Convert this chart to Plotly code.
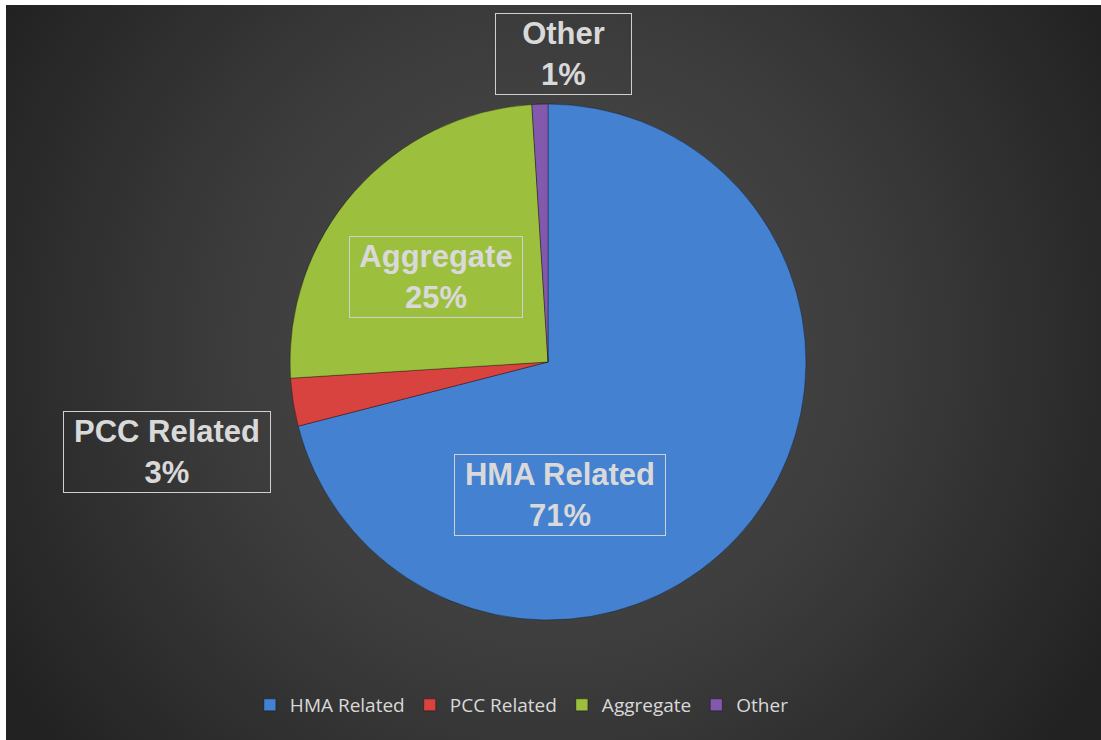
import base64
import plotly.graph_objects as go

# ---- data ----
categories = ["HMA Related", "PCC Related", "Aggregate", "Other"]
values = [71, 3, 25, 1]
colors = ["#4481d1", "#d8423f", "#9cbf3e", "#8259ad"]

W, H = 1101, 740

# background panel with radial gradient (SVG data URI)
svg = f'''<svg xmlns="http://www.w3.org/2000/svg" width="1095" height="735" viewBox="0 0 1095 735" preserveAspectRatio="none">
<defs><radialGradient id="g" gradientUnits="userSpaceOnUse" cx="545" cy="340" r="640">
<stop offset="0" stop-color="#505050"/><stop offset="0.55" stop-color="#3a3a3a"/><stop offset="1" stop-color="#222222"/>
</radialGradient></defs>
<rect x="0" y="0" width="1095" height="735" fill="url(#g)"/></svg>'''
src = "data:image/svg+xml;base64," + base64.b64encode(svg.encode()).decode()

cx, cy, r = 548, 362, 258

fig = go.Figure(go.Pie(
    labels=categories,
    values=values,
    sort=False,
    direction="clockwise",
    rotation=0,
    marker=dict(colors=colors, line=dict(color="rgba(0,0,0,0.35)", width=1)),
    textinfo="none",
    hoverinfo="label+percent",
    domain=dict(x=[(cx - r) / W, (cx + r) / W], y=[1 - (cy + r) / H, 1 - (cy - r) / H]),
))

# label boxes (centre px, box width px)
label_boxes = {
    "HMA Related": (560, 495, 212),
    "PCC Related": (167, 452, 208),
    "Aggregate": (436, 277, 174),
    "Other": (563, 54, 137),
}
total = sum(values)
for cat, v in zip(categories, values):
    x, y, w = label_boxes[cat]
    fig.add_annotation(
        x=x / W, y=1 - y / H, xref="paper", yref="paper",
        text=f"<b>{cat}<br>{round(100 * v / total)}%</b>",
        showarrow=False, align="center",
        width=w - 2, height=80,
        font=dict(family="Liberation Sans, Arial", size=31, color="#d9d9d9"),
        bordercolor="#d0d0d0", borderwidth=1, borderpad=0,
        xanchor="center", yanchor="middle",
    )

fig.update_layout(
    width=W, height=H,
    margin=dict(l=0, r=0, t=0, b=0),
    paper_bgcolor="white",
    plot_bgcolor="rgba(0,0,0,0)",
    images=[dict(source=src, xref="paper", yref="paper", x=6 / W, y=1 - 5 / H,
                 sizex=(W - 6) / W, sizey=(H - 5) / H, sizing="stretch",
                 xanchor="left", yanchor="top", layer="below")],
    showlegend=True,
    legend=dict(orientation="h", x=0.474, y=1 - 705 / H, xanchor="center", yanchor="middle",
                font=dict(family="Open Sans", size=19, color="#d9d9d9"),
                bgcolor="rgba(0,0,0,0)", itemwidth=30, traceorder="normal"),
)

fig.write_html("out.html", config={"displayModeBar": False},
               post_script="document.body.style.margin='0';")
